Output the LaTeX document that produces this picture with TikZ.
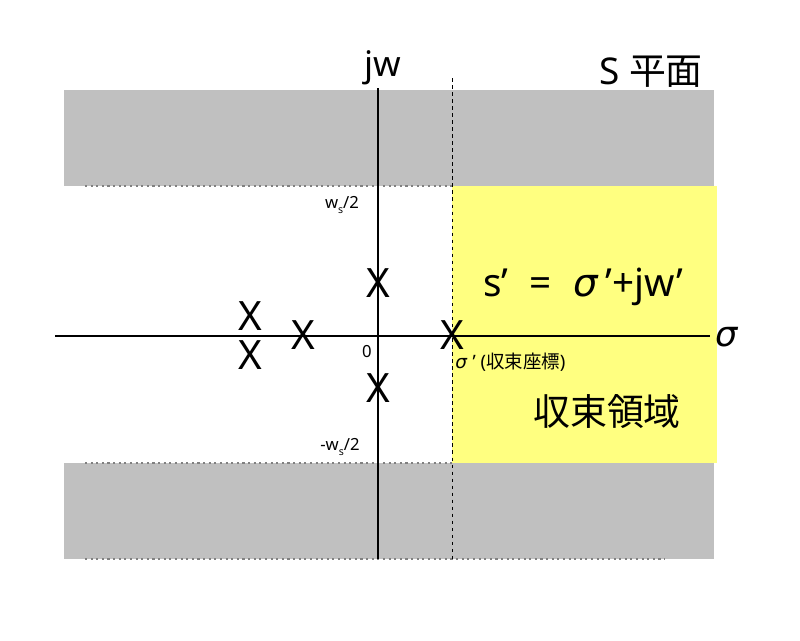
\documentclass[tikz,border=0pt]{standalone}
\usepackage{fontspec}
\setmainfont{Noto Sans}
\newfontfamily\cjk{Noto Sans CJK JP}
\newfontfamily\grk{DejaVu Sans}
\definecolor{bandgray}{RGB}{192,192,192}
\definecolor{convyellow}{RGB}{255,255,128}

\begin{document}
\begin{tikzpicture}[x=0.02cm,y=-0.02cm,
    band/.style={fill=bandgray},
    edgeline/.style={gray,dotted,line width=1.2pt},
    axis/.style={black,line width=0.9pt},
    pole/.style={font=\fontsize{23}{23}\selectfont,inner sep=0pt},
    biglabel/.style={font=\fontsize{20}{20}\selectfont,inner sep=0pt},
    smalllabel/.style={font=\fontsize{9.5}{9.5}\selectfont,inner sep=0pt}]
    \useasboundingbox (0,0) rectangle (800,640);
    % strips outside the band |w| < ws/2, and the region of convergence
    \fill[band] (64,90) rectangle (714,186);
    \fill[band] (64,463) rectangle (714,559);
    \fill[convyellow] (452,186) rectangle (717,463);
    \draw[edgeline] (85,186) -- (452,186);
    \draw[edgeline] (85,463) -- (452,463);
    \draw[edgeline] (85,559) -- (665,559);

    % axes
    \coordinate (jwtop) at (378,88);
    \coordinate (jwbot) at (378,559);
    \coordinate (sigl) at (55,336);
    \coordinate (sigr) at (710,336);
    \draw[axis] (jwtop) -- (jwbot);
    \draw[axis] (sigl) -- (sigr);
    \coordinate (abstop) at (452,78);
    \coordinate (absbot) at (452,559);
    \draw[black,line width=0.5pt,dash pattern=on 2pt off 2pt] (abstop) -- (absbot);

    \node[biglabel] (jw) at (383,68) {jw};
    \node[biglabel,font=\fontsize{21}{21}\selectfont] (splane) at (651,72) {S {\cjk 平面}};
    \node[biglabel] (sigma) at (727,337) {\grk\itshape σ};
    \node[smalllabel] (zero) at (367,352) {0};
    \node[smalllabel] (wsp) at (342,205) {w\raisebox{-0.5ex}{\fontsize{6}{6}\selectfont s}/2};
    \node[smalllabel] (wsn) at (340,447) {-w\raisebox{-0.5ex}{\fontsize{6}{6}\selectfont s}/2};
    \node[smalllabel,font=\fontsize{10.5}{10.5}\selectfont,anchor=west] (abscissa) at (455,362)
        {{\grk\itshape σ}\hspace{0.3em}’ ({\cjk 収束座標})};
    \node[biglabel,font=\fontsize{22}{22}\selectfont] (sprime) at (583,287)
        {s’\hspace{0.55em}=\hspace{0.55em}{\grk\itshape σ}\hspace{0.2em}’+jw’};
    \node[biglabel,font=\fontsize{21}{21}\selectfont\cjk] (roc) at (607,412) {収束領域};

    % poles
    \node[pole] (p1) at (378,283) {X};
    \node[pole] (p2) at (378,388) {X};
    \node[pole] (p3) at (303,335) {X};
    \node[pole] (p4) at (250,316) {X};
    \node[pole] (p5) at (250,355) {X};
    \node[pole] (p6) at (452,335) {X};
\end{tikzpicture}
\end{document}
